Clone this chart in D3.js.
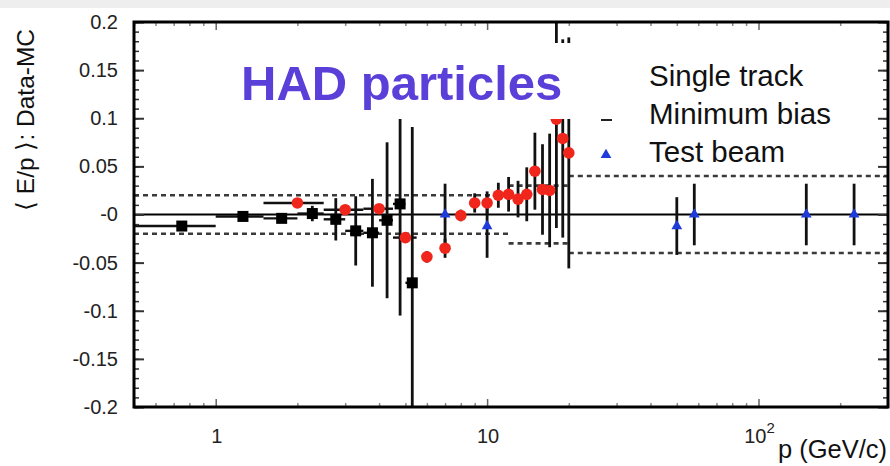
<!DOCTYPE html>
<html>
<head>
<meta charset="utf-8">
<script src="https://d3js.org/d3.v7.min.js"></script>
<style>
  body { margin: 0; background: #fff; }
  svg text { font-family: "Liberation Sans", Arial, Helvetica, sans-serif; }
</style>
</head>
<body>
<svg id="vis"></svg>
<script>
  // Minimum bias (black squares)
  var mbP   = [0.75, 1.26, 1.75, 2.27, 2.77, 3.28, 3.78, 4.28, 4.78, 5.3];
  var mbVal = [-0.012, -0.002, -0.004, 0.001, -0.005, -0.017, -0.019, -0.006, 0.011, -0.071];
  var mbErr = [0.002, 0.003, 0.003, 0.008, 0.022, 0.036, 0.056, 0.081, 0.116, 0.162];
  var mbLo  = [0.5, 1.0, 1.5, 2.0, 2.5, 3.0, 3.5, 4.0, 4.5, 5.0];
  var mbHi  = [1.0, 1.5, 2.0, 2.5, 3.0, 3.5, 4.0, 4.5, 5.0, 5.5];

  // Single track (red circles)
  var stP   = [2, 3, 4, 5, 6, 7, 8, 9, 10, 11, 12, 13, 14, 15, 16, 17, 18, 19, 20];
  var stVal = [0.012, 0.005, 0.006, -0.024, -0.044, -0.035, -0.001, 0.012, 0.012, 0.020,
               0.021, 0.016, 0.021, 0.045, 0.026, 0.025, 0.099, 0.079, 0.064];
  var stErr = [0.003, 0.004, 0.004, 0.005, 0.006, 0.010, 0.006, 0.010, 0.012, 0.013,
               0.018, 0.019, 0.028, 0.040, 0.047, 0.059, 0.113, 0.103, 0.12];
  var stXerr = [0.5, 0.5, 0.5, 0.5, 0, 0, 0, 0, 0, 0, 0, 0, 0, 0, 0, 0, 0, 0, 0];

  // Test beam (blue triangles)
  var tbP   = [7, 10, 50, 58, 150, 225];
  var tbVal = [0.0, -0.012, -0.012, 0.0, 0.0, 0.0];
  var tbErr = [0.032, 0.033, 0.03, 0.032, 0.032, 0.032];

  // systematic bands (dashed)
  var bandLo   = [0.5, 12, 20];
  var bandHi   = [12, 20, 300];
  var bandHalf = [0.02, 0.03, 0.04];

  var yTicks      = [0.2, 0.15, 0.1, 0.05, 0, -0.05, -0.1, -0.15, -0.2];
  var yTickLabels = ['0.2', '0.15', '0.1', '0.05', '-0', '-0.05', '-0.1', '-0.15', '-0.2'];
  var xMajor      = [1, 10, 100];
  var legendNames = ['Single track', 'Minimum bias', 'Test beam'];

  var width = 890, height = 466;
  var plotL = 134, plotR = 888, plotT = 22, plotB = 407;

  var svg = d3.select('#vis')
      .attr('width', width)
      .attr('height', height);

  var x = d3.scaleLog().domain([0.5, 300]).range([plotL, plotR]);
  var y = d3.scaleLinear().domain([-0.2, 0.2]).range([plotB, plotT]);

  // light strip at the very top
  svg.append('rect')
      .attr('x', 0).attr('y', 0).attr('width', width).attr('height', 8)
      .attr('fill', '#eeeeee');

  svg.append('clipPath').attr('id', 'clip')
    .append('rect')
      .attr('x', plotL).attr('y', plotT)
      .attr('width', plotR - plotL).attr('height', plotB - plotT);

  var plot = svg.append('g').attr('clip-path', 'url(#clip)');

  // dashed bands
  bandLo.forEach(function(lo, i) {
    [bandHalf[i], -bandHalf[i]].forEach(function(v) {
      plot.append('line')
          .attr('x1', x(lo)).attr('x2', x(bandHi[i]))
          .attr('y1', y(v)).attr('y2', y(v))
          .attr('stroke', '#3a3a3a')
          .attr('stroke-width', 2.6)
          .attr('stroke-dasharray', '5,4');
    });
  });

  // zero line
  plot.append('line')
      .attr('x1', plotL).attr('x2', plotR)
      .attr('y1', y(0)).attr('y2', y(0))
      .attr('stroke', '#000')
      .attr('stroke-width', 2.2);

  function errBars(ps, vals, errs, cls) {
    plot.selectAll('line.' + cls)
        .data(ps)
        .enter().append('line')
        .attr('class', cls)
        .attr('x1', function(d) { return x(d); })
        .attr('x2', function(d) { return x(d); })
        .attr('y1', function(d, i) { return y(vals[i] + errs[i]); })
        .attr('y2', function(d, i) { return y(vals[i] - errs[i]); })
        .attr('stroke', '#111')
        .attr('stroke-width', 2.8);
  }

  // horizontal bars
  plot.selectAll('line.mbx')
      .data(mbP)
      .enter().append('line')
      .attr('class', 'mbx')
      .attr('x1', function(d, i) { return x(mbLo[i]); })
      .attr('x2', function(d, i) { return x(mbHi[i]); })
      .attr('y1', function(d, i) { return y(mbVal[i]); })
      .attr('y2', function(d, i) { return y(mbVal[i]); })
      .attr('stroke', '#111')
      .attr('stroke-width', 2.4);

  plot.selectAll('line.stx')
      .data(stP)
      .enter().append('line')
      .attr('class', 'stx')
      .attr('x1', function(d, i) { return x(d - stXerr[i]); })
      .attr('x2', function(d, i) { return x(d + stXerr[i]); })
      .attr('y1', function(d, i) { return y(stVal[i]); })
      .attr('y2', function(d, i) { return y(stVal[i]); })
      .attr('stroke', '#111')
      .attr('stroke-width', 2.4);

  errBars(mbP, mbVal, mbErr, 'mbe');
  errBars(stP, stVal, stErr, 'ste');
  errBars(tbP, tbVal, tbErr, 'tbe');

  // markers
  plot.selectAll('rect.mb')
      .data(mbP)
      .enter().append('rect')
      .attr('class', 'mb')
      .attr('x', function(d) { return x(d) - 5.5; })
      .attr('y', function(d, i) { return y(mbVal[i]) - 5.5; })
      .attr('width', 11).attr('height', 11)
      .attr('fill', '#000');

  plot.selectAll('circle.st')
      .data(stP)
      .enter().append('circle')
      .attr('class', 'st')
      .attr('cx', function(d) { return x(d); })
      .attr('cy', function(d, i) { return y(stVal[i]); })
      .attr('r', 5.8)
      .attr('fill', '#f0261c');

  var tri = d3.symbol().type(d3.symbolTriangle).size(50);
  plot.selectAll('path.tb')
      .data(tbP)
      .enter().append('path')
      .attr('class', 'tb')
      .attr('d', tri)
      .attr('transform', function(d, i) { return 'translate(' + x(d) + ',' + y(tbVal[i]) + ')'; })
      .attr('fill', '#1e3cdc');

  // white box behind title / legend
  svg.append('rect')
      .attr('x', 200).attr('y', 43).attr('width', 440).attr('height', 76)
      .attr('fill', '#fff');

  svg.append('text')
      .attr('x', 241).attr('y', 100)
      .attr('font-size', 49)
      .attr('font-weight', 'bold')
      .attr('fill', '#5b3fd9')
      .text('HAD particles');

  // legend
  svg.selectAll('text.leg')
      .data(legendNames)
      .enter().append('text')
      .attr('class', 'leg')
      .attr('x', 649)
      .attr('y', function(d, i) { return 86 + i * 38; })
      .attr('font-size', 29.5)
      .attr('fill', '#111')
      .text(function(d) { return d; });

  svg.append('line')
      .attr('x1', 601).attr('x2', 612).attr('y1', 120).attr('y2', 120)
      .attr('stroke', '#222').attr('stroke-width', 2);

  svg.append('path')
      .attr('d', tri)
      .attr('transform', 'translate(606,155)')
      .attr('fill', '#1e3cdc');

  // axes ticks
  var yMinor = d3.range(-20, 21).map(function(k) { return k / 100; });

  svg.append('g')
      .attr('transform', 'translate(' + plotL + ',0)')
      .call(d3.axisLeft(y).tickValues(yMinor).tickSize(-5).tickFormat(''))
      .call(function(g) { g.select('.domain').remove(); })
      .selectAll('line').attr('stroke', '#333').attr('stroke-width', 1.5);

  var yAx = svg.append('g')
      .attr('transform', 'translate(' + plotL + ',0)')
      .call(d3.axisLeft(y).tickValues(yTicks).tickSize(-10).tickPadding(16)
              .tickFormat(function(d, i) { return yTickLabels[i]; }));
  yAx.select('.domain').remove();
  yAx.selectAll('line').attr('stroke', '#333').attr('stroke-width', 2);
  yAx.selectAll('text')
      .attr('font-size', 20)
      .attr('font-family', '"Liberation Sans", Arial, sans-serif')
      .attr('fill', '#222');

  svg.append('g')
      .attr('transform', 'translate(' + plotR + ',0)')
      .call(d3.axisRight(y).tickValues(yMinor).tickSize(-5).tickFormat(''))
      .call(function(g) { g.select('.domain').remove(); })
      .selectAll('line').attr('stroke', '#333').attr('stroke-width', 1.5);

  svg.append('g')
      .attr('transform', 'translate(' + plotR + ',0)')
      .call(d3.axisRight(y).tickValues(yTicks).tickSize(-10).tickFormat(''))
      .call(function(g) { g.select('.domain').remove(); })
      .selectAll('line').attr('stroke', '#333').attr('stroke-width', 2);

  var xMinor = [];
  [0.1, 1, 10, 100].forEach(function(dec) {
    for (var k = 2; k <= 9; k++) {
      var v = k * dec;
      if (v >= 0.5 && v <= 300) xMinor.push(v);
    }
  });

  [[plotB, d3.axisBottom], [plotT, d3.axisTop]].forEach(function(a) {
    svg.append('g')
        .attr('transform', 'translate(0,' + a[0] + ')')
        .call(a[1](x).tickValues(xMinor).tickSize(-4).tickFormat(''))
        .call(function(g) { g.select('.domain').remove(); })
        .selectAll('line').attr('stroke', '#888').attr('stroke-width', 1.5);
    svg.append('g')
        .attr('transform', 'translate(0,' + a[0] + ')')
        .call(a[1](x).tickValues(xMajor).tickSize(-8).tickFormat(''))
        .call(function(g) { g.select('.domain').remove(); })
        .selectAll('line').attr('stroke', '#666').attr('stroke-width', 1.5);
  });

  // x tick labels
  var xl = svg.selectAll('text.xl')
      .data(xMajor)
      .enter().append('text')
      .attr('class', 'xl')
      .attr('x', function(d) { return x(d) + 1; })
      .attr('y', 443)
      .attr('text-anchor', 'middle')
      .attr('font-size', 20)
      .attr('fill', '#222');
  xl.each(function(d) {
    var t = d3.select(this);
    if (d === 100) {
      t.append('tspan').text('10');
      t.append('tspan').attr('font-size', 15).attr('dy', -10).text('2');
    } else {
      t.text(d);
    }
  });

  // frame
  svg.append('rect')
      .attr('x', plotL).attr('y', plotT)
      .attr('width', plotR - plotL).attr('height', plotB - plotT)
      .attr('fill', 'none')
      .attr('stroke', '#000')
      .attr('stroke-width', 3);

  // axis titles
  svg.append('text')
      .attr('x', plotR - 1).attr('y', 458)
      .attr('text-anchor', 'end')
      .attr('font-size', 25.5)
      .attr('fill', '#111')
      .text('p (GeV/c)');

  svg.append('text')
      .attr('transform', 'translate(34,120) rotate(-90)')
      .attr('text-anchor', 'middle')
      .attr('font-size', 24.5)
      .attr('fill', '#111')
      .text('\u27E8 E/p \u27E9: Data-MC');
</script>
</body>
</html>
